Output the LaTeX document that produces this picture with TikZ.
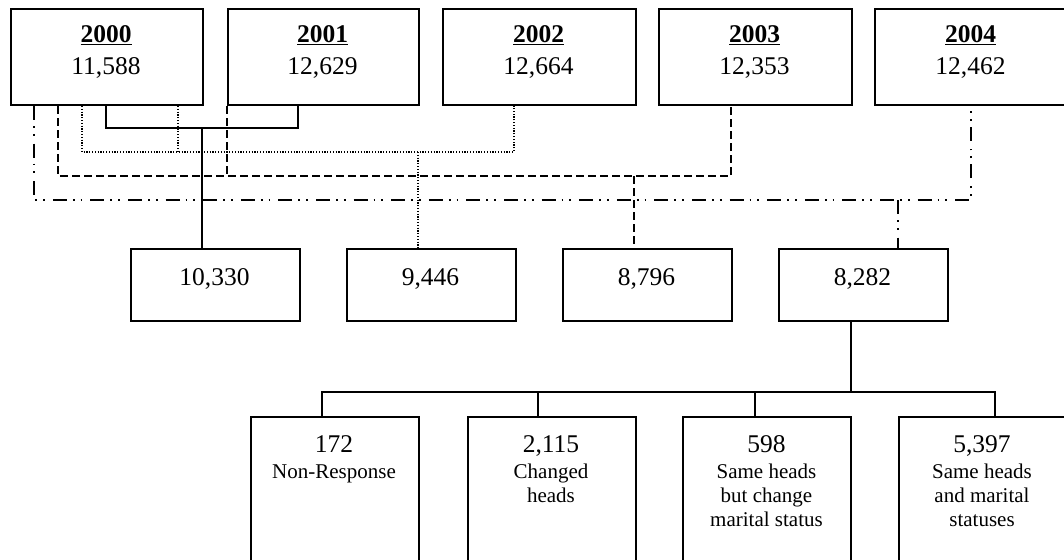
\documentclass[tikz,border=0pt]{standalone}
\usepackage{fontspec}
\setmainfont{Liberation Serif}
\tikzset{
  box/.style={draw, line width=2pt, inner sep=0pt, anchor=north west},
  topbox/.style={box, minimum height=96pt},
  midbox/.style={box, minimum width=169pt, minimum height=72pt},
  botbox/.style={box, minimum width=168pt, minimum height=170pt},
  numtxt/.style={anchor=base, inner sep=0pt, font=\fontsize{25.5}{32}\selectfont},
  labtxt/.style={anchor=base, inner sep=0pt, font=\fontsize{21}{24}\selectfont},
  solidc/.style={line width=1.5pt},
  dotc/.style={line width=1.4pt, dash pattern=on 1.2pt off 1.6pt},
  dashc/.style={line width=1.5pt, dash pattern=on 8pt off 4pt},
  dashdotc/.style={line width=1.5pt, dash pattern=on 14pt off 6pt on 1.8pt off 6pt on 1.8pt off 8pt},
}
\newcommand{\yr}[2]{\begin{tabular}[t]{@{}c@{}}\underline{\textbf{#1}}\\#2\end{tabular}}
\newcommand{\lab}[1]{\begin{tabular}[t]{@{}c@{}}#1\end{tabular}}
\begin{document}
\begin{tikzpicture}[x=1pt,y=-1pt]
\useasboundingbox (0,0) rectangle (1064,559);

% top boxes
\node[topbox, minimum width=192pt] (b2000) at (10,8) {};
\node[topbox, minimum width=191pt] (b2001) at (227,8) {};
\node[topbox, minimum width=193pt] (b2002) at (442,8) {};
\node[topbox, minimum width=193pt] (b2003) at (658,8) {};
\node[topbox, minimum width=193pt] (b2004) at (874,8) {};
\node[numtxt] (t2000) at (106,43) {\yr{2000}{11,588}};
\node[numtxt] (t2001) at (322.5,43) {\yr{2001}{12,629}};
\node[numtxt] (t2002) at (538.5,43) {\yr{2002}{12,664}};
\node[numtxt] (t2003) at (754.5,43) {\yr{2003}{12,353}};
\node[numtxt] (t2004) at (970.5,43) {\yr{2004}{12,462}};

% middle boxes
\node[midbox] (m1) at (130,248) {};
\node[midbox] (m2) at (346,248) {};
\node[midbox] (m3) at (562,248) {};
\node[midbox] (m4) at (778,248) {};
\node[numtxt] (tm1) at (214.5,285) {10,330};
\node[numtxt] (tm2) at (430.5,285) {9,446};
\node[numtxt] (tm3) at (646.5,285) {8,796};
\node[numtxt] (tm4) at (862.5,285) {8,282};

% bottom boxes
\node[botbox] (n1) at (250,416) {};
\node[botbox] (n2) at (467,416) {};
\node[botbox] (n3) at (682,416) {};
\node[botbox] (n4) at (898,416) {};
\node[numtxt] (tn1) at (334,452) {172};
\node[numtxt] (tn2) at (551,452) {2,115};
\node[numtxt] (tn3) at (766.5,452) {598};
\node[numtxt] (tn4) at (982,452) {5,397};
\node[labtxt] (ln1) at (334,478) {\lab{Non-Response}};
\node[labtxt] (ln2) at (551,478) {\lab{Changed\\heads}};
\node[labtxt] (ln3) at (766.5,478) {\lab{Same heads\\but change\\marital status}};
\node[labtxt] (ln4) at (982,478) {\lab{Same heads\\and marital\\statuses}};

% junctions
\coordinate (jS) at (202,128);
\coordinate (jD) at (418,152);
\coordinate (jD2) at (178,152);
\coordinate (jE) at (634,176);
\coordinate (jE2) at (227,176);
\coordinate (jF) at (898,200);
\coordinate (jG) at (851,392);

% solid: 2000 + 2001 -> 10,330
\draw[solidc] ([xshift=96pt]b2000.south west) |- (jS) -| ([xshift=71pt]b2001.south west);
\draw[solidc] (jS) -- ([xshift=72pt]m1.north west);

% dotted: 2000 + 2002 -> 9,446
\draw[dotc] ([xshift=72pt]b2000.south west) |- (jD) -| ([xshift=72pt]b2002.south west);
\draw[dotc] ([xshift=168pt]b2000.south west) -- (jD2);
\draw[dotc] (jD) -- ([xshift=72pt]m2.north west);

% dashed: 2000 + 2001 + 2003 -> 8,796
\draw[dashc] ([xshift=48pt]b2000.south west) |- (jE) -| ([xshift=73pt]b2003.south west);
\draw[dashc] (b2001.south west) -- (jE2);
\draw[dashc] (jE) -- ([xshift=72pt]m3.north west);

% dash-dot-dot: 2000 + 2004 -> 8,282
\draw[dashdotc] ([xshift=24pt]b2000.south west) |- (jF) -| ([xshift=97pt]b2004.south west);
\draw[dashdotc] (jF) -- ([xshift=120pt]m4.north west);

% 8,282 -> categories
\draw[solidc] ([xshift=73pt]m4.south west) -- (jG);
\draw[solidc] ([xshift=72pt]n1.north west) |- (jG) -| ([xshift=97pt]n4.north west);
\draw[solidc] ([xshift=71pt]n2.north west) -- ([xshift=71pt]n2.north west |- jG);
\draw[solidc] ([xshift=73pt]n3.north west) -- ([xshift=73pt]n3.north west |- jG);
\end{tikzpicture}
\end{document}
